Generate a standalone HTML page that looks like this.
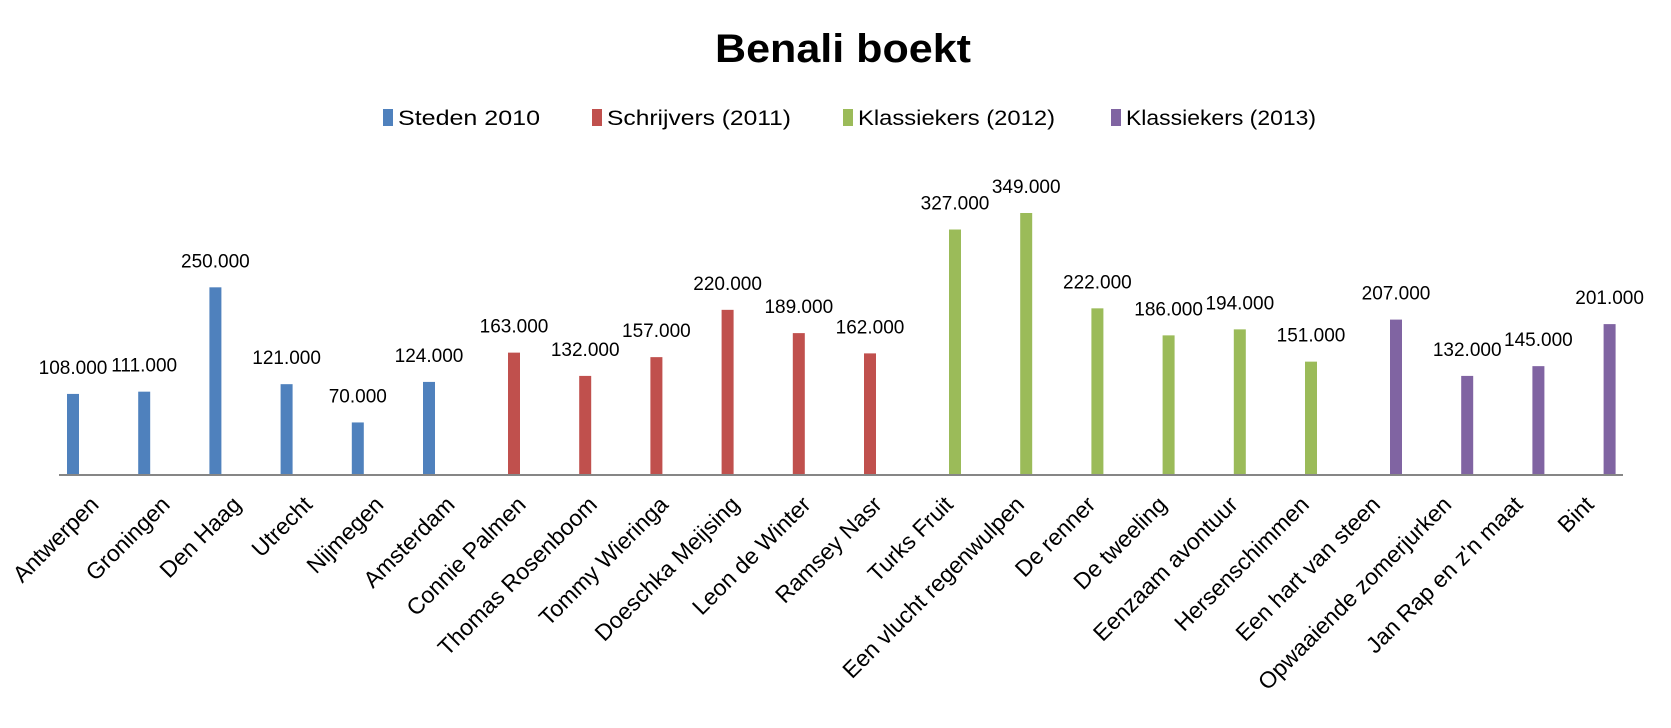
<!DOCTYPE html>
<html><head><meta charset="utf-8"><style>
html,body{margin:0;padding:0;background:#fff;}
svg{display:block;font-family:"Liberation Sans",sans-serif;}
</style></head><body>
<svg id="chart" width="1671" height="728">
<text x="843" y="62" text-anchor="middle" font-size="40" font-weight="bold" textLength="256" lengthAdjust="spacingAndGlyphs">Benali boekt</text>
<g id="legend"></g>
<g id="bars"></g>
<line x1="59" y1="475" x2="1623" y2="475" stroke="#868686" stroke-width="2"/>
<g id="labels"></g>
</svg>
<script>
const categories = ["Antwerpen","Groningen","Den Haag","Utrecht","Nijmegen","Amsterdam","Connie Palmen","Thomas Rosenboom","Tommy Wieringa","Doeschka Meijsing","Leon de Winter","Ramsey Nasr","Turks Fruit","Een vlucht regenwulpen","De renner","De tweeling","Eenzaam avontuur","Hersenschimmen","Een hart van steen","Opwaaiende zomerjurken","Jan Rap en z'n maat","Bint"];
const values = [108000,111000,250000,121000,70000,124000,163000,132000,157000,220000,189000,162000,327000,349000,222000,186000,194000,151000,207000,132000,145000,201000];
const valueLabels = ["108.000","111.000","250.000","121.000","70.000","124.000","163.000","132.000","157.000","220.000","189.000","162.000","327.000","349.000","222.000","186.000","194.000","151.000","207.000","132.000","145.000","201.000"];
const seriesIndex = [0,0,0,0,0,0,1,1,1,1,1,1,2,2,2,2,2,2,3,3,3,3];
const seriesNames = ["Steden 2010","Schrijvers (2011)","Klassiekers (2012)","Klassiekers (2013)"];
const seriesColors = ["#4F81BD","#C0504D","#9BBB59","#8064A2"];

const NS="http://www.w3.org/2000/svg";
const baseY=475, pxPerUnit=(475-213)/349000;
function yScale(v){return baseY - v*pxPerUnit;}
function xScale(i){return 73 + i*71.2 + seriesIndex[i]*13.8;}
function labelX(i){return 73 + i*71.2 + 27;}
function mk(tag,attrs,parent){const e=document.createElementNS(NS,tag);for(const k in attrs)e.setAttribute(k,attrs[k]);parent.appendChild(e);return e;}

const legend=document.getElementById('legend');
const legX=[383,592,843,1111], legW=[142,184,197,190];
seriesNames.forEach((n,s)=>{
  const r=mk('rect',{x:legX[s],y:109,width:10,height:17,fill:seriesColors[s]},legend);
  
  
  const t=mk('text',{x:legX[s]+15,y:125,'font-size':21,textLength:legW[s],lengthAdjust:'spacingAndGlyphs'},legend);
  t.textContent=n;
  
  
});

const bars=document.getElementById('bars'), labels=document.getElementById('labels');
categories.forEach((c,i)=>{
  const x=xScale(i), y=yScale(values[i]);
  const b=mk('rect',{x:x-6,y:y,width:12,height:baseY-y,fill:seriesColors[seriesIndex[i]]},bars);
  
  
  const v=mk('text',{x:x,y:y-20,'text-anchor':'middle','font-size':19},bars);
  v.textContent=valueLabels[i];
  
  
  const t=mk('text',{x:0,y:0,'text-anchor':'end','font-size':23,transform:`translate(${labelX(i)},${506}) rotate(-45)`},labels);
  t.textContent=c;
  
  
});
</script>
</body></html>
